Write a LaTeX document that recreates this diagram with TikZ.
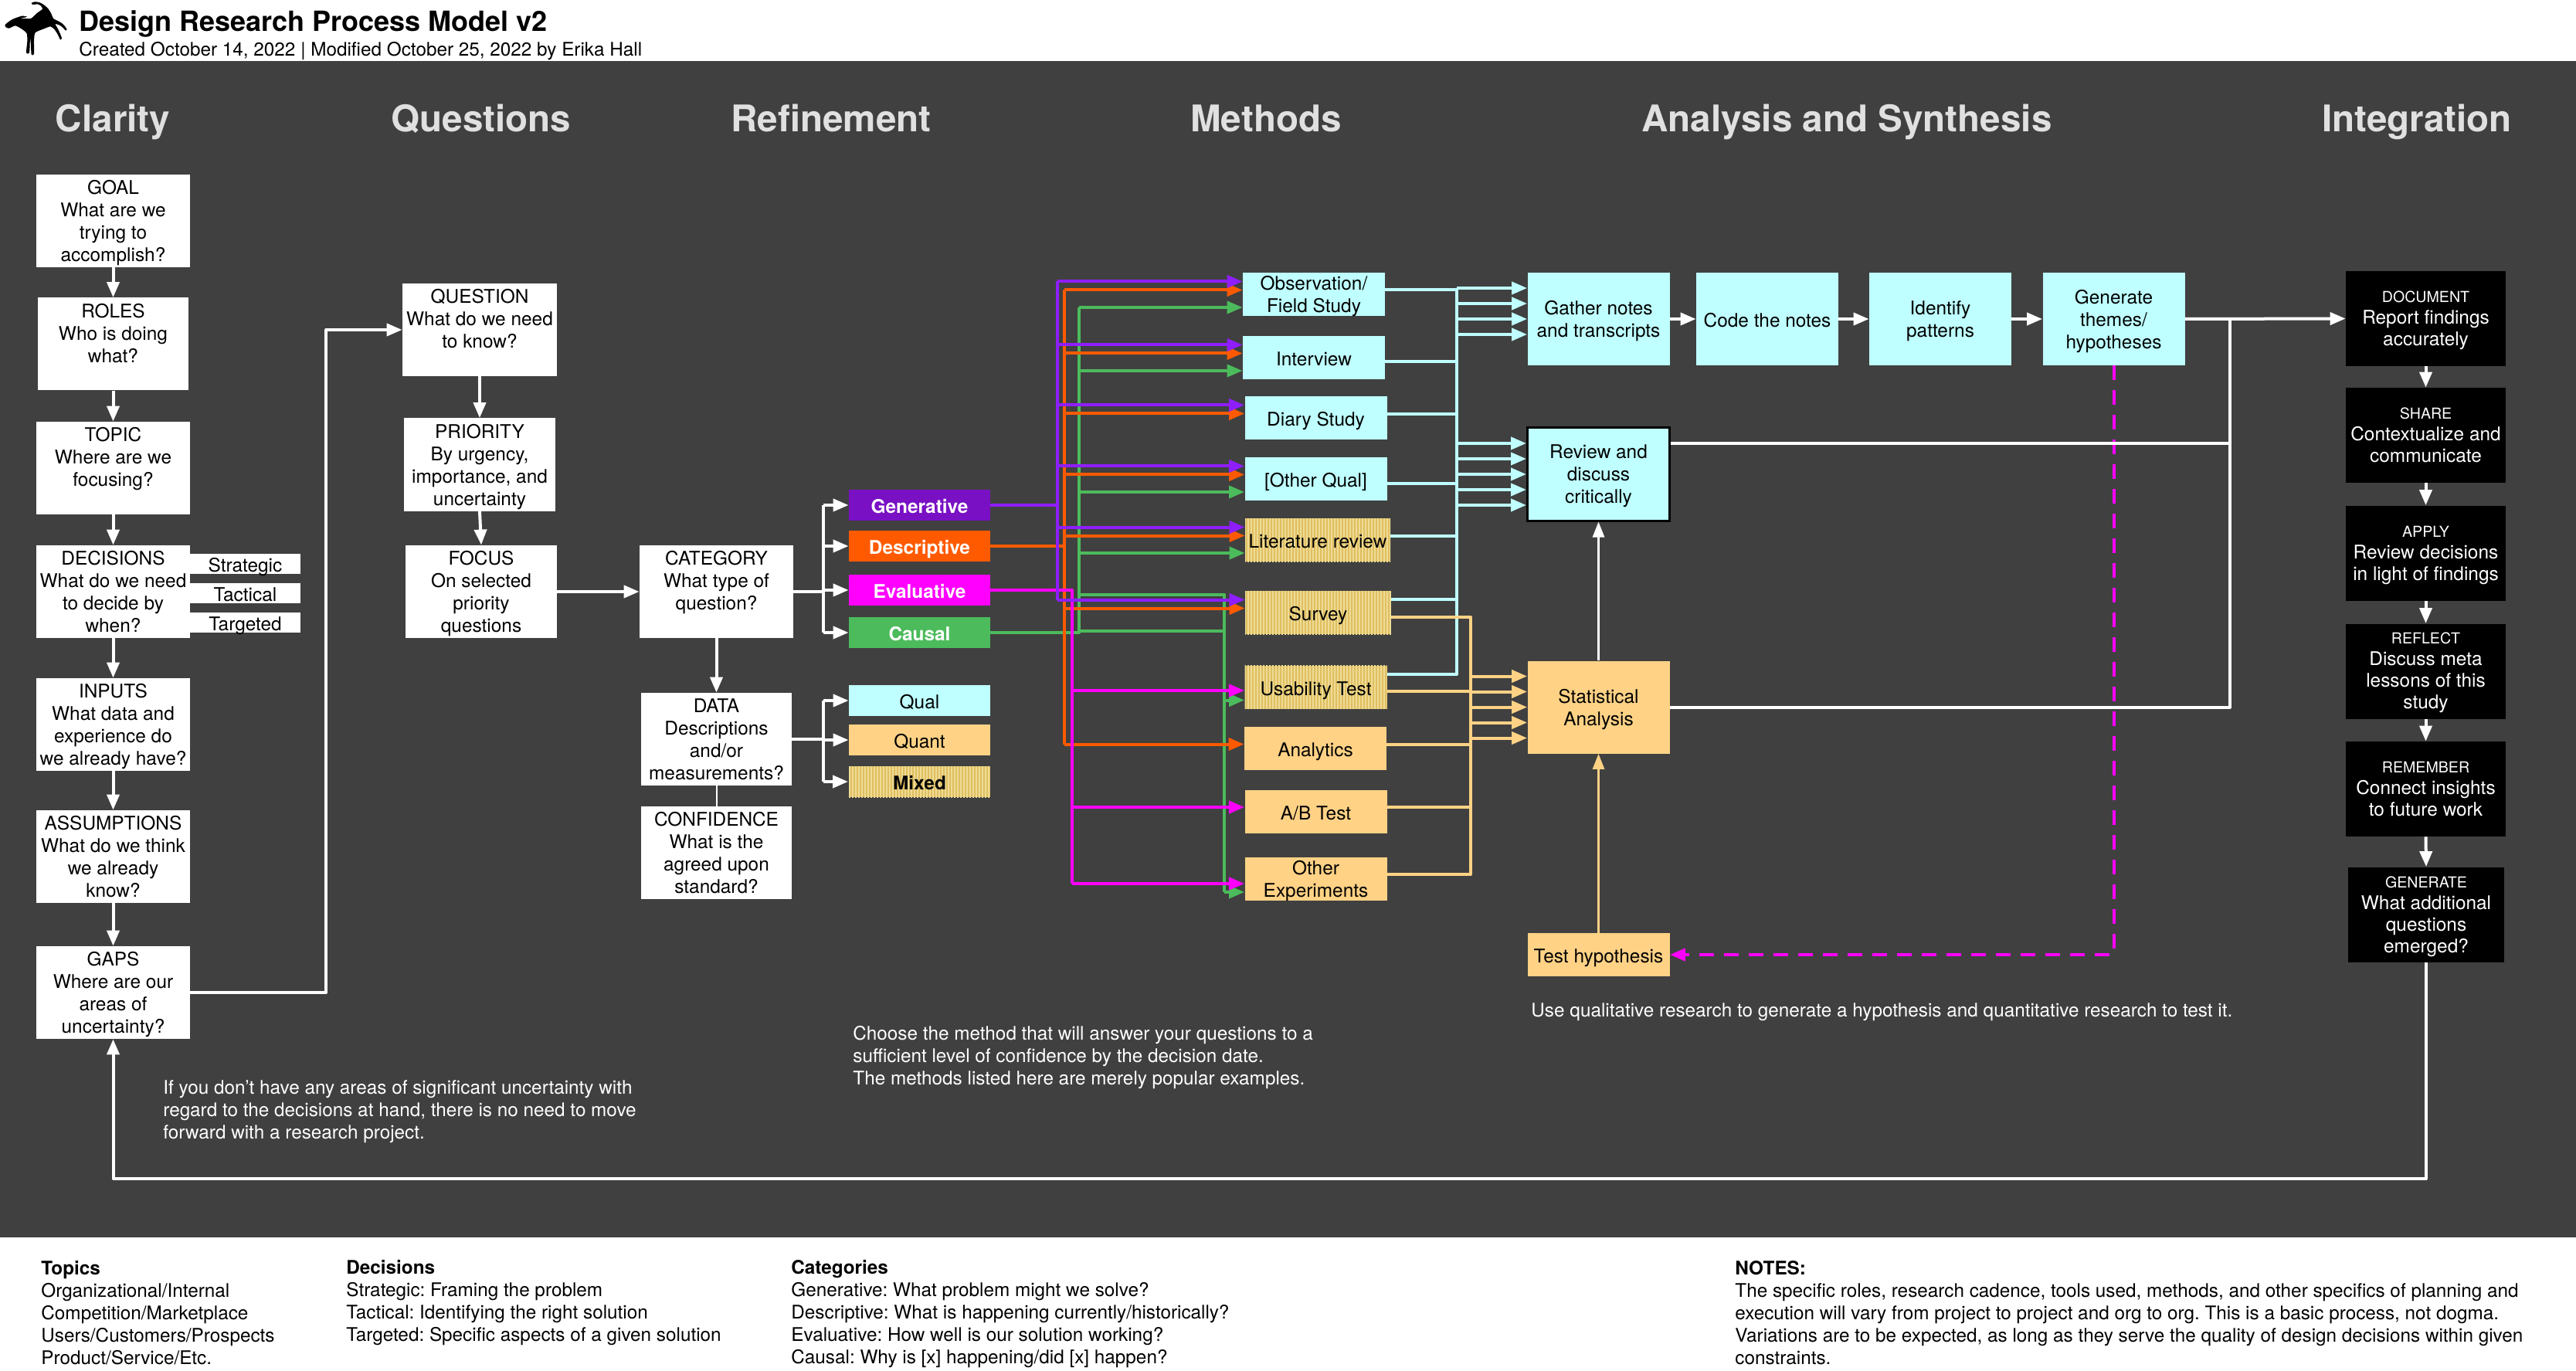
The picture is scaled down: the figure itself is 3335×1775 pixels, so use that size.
\documentclass[tikz,border=0pt]{standalone}
\usepackage{fontspec}
\setmainfont{TeX Gyre Heros}
\usetikzlibrary{arrows.meta,patterns.meta}
\frenchspacing

\definecolor{panelgray}{HTML}{404040}
\definecolor{titlegray}{HTML}{E0E0E0}
\definecolor{qualcyan}{HTML}{BFFFFF}
\definecolor{quantorange}{HTML}{FFD285}
\definecolor{genbox}{HTML}{7A10C4}
\definecolor{genline}{HTML}{8F1EFF}
\definecolor{descorange}{HTML}{FF5A00}
\definecolor{evalmagenta}{HTML}{FF00FF}
\definecolor{causegreen}{HTML}{4CBB5C}
\definecolor{stripebase}{HTML}{E0BE60}
\definecolor{stripelight}{HTML}{EEDC95}

\newcommand{\bodyfont}{\fontsize{12.2}{14.5}\selectfont}
\newcommand{\capline}[1]{{\fontsize{9.8}{14}\selectfont #1}}

\tikzset{
  bigtip/.tip={Triangle[length=10pt,width=8pt]},
  thintip/.tip={Triangle[length=10pt,width=7.5pt]},
  evenline/.style={execute at begin node={\rule{0pt}{11.9pt}}, text depth=1.1pt},
  twoline/.style={text depth=-0.9pt},
  qbox/.style={fill=white, text=black, inner sep=0pt, align=center, minimum width=99.5pt, minimum height=60pt, font=\bodyfont, text depth=-4.5pt},
  tagbox/.style={evenline, fill=white, text=black, inner sep=0pt, minimum width=71.5pt, minimum height=13pt, font=\bodyfont},
  catbox/.style={evenline, inner sep=0pt, minimum width=91.5pt, minimum height=20pt, font=\bodyfont\bfseries, text=white},
  typebox/.style={evenline, inner sep=0pt, minimum width=91.5pt, minimum height=20pt, font=\bodyfont, text=black},
  methodbox/.style={evenline, inner sep=0pt, align=center, minimum width=92pt, minimum height=28pt, font=\bodyfont, text=black},
  synthbox/.style={evenline, inner sep=0pt, align=center, minimum width=92pt, minimum height=60pt, font=\bodyfont, text=black},
  intbox/.style={fill=black, text=white, inner sep=0pt, align=center, minimum width=103.5pt, minimum height=61.5pt, font=\fontsize{12.2}{14}\selectfont, text depth=-0.4pt},
  stripebox/.style={preaction={fill=stripebase}, pattern={Lines[angle=90,distance=2pt,line width=1pt]}, pattern color=stripelight},
  headtext/.style={text=titlegray, font=\fontsize{23.8}{28}\selectfont\bfseries, inner sep=0pt, anchor=base},
  notetext/.style={anchor=west, align=left, inner sep=0pt, font=\fontsize{12.15}{14.5}\selectfont},
  heavy/.style={line width=2pt, line join=round},
  whiteline/.style={heavy, draw=white},
  purpleline/.style={heavy, draw=genline},
  orangeline/.style={heavy, draw=descorange},
  magentaline/.style={heavy, draw=evalmagenta},
  greenline/.style={heavy, draw=causegreen},
  cyanline/.style={heavy, draw=qualcyan},
  sandline/.style={heavy, draw=quantorange},
}

\begin{document}
\begin{tikzpicture}[x=0.5pt, y=-0.5pt]
  \useasboundingbox (0,0) rectangle (3335,1775);
  \fill[white] (0,0) rectangle (3335,1775);
  \fill[panelgray] (0,79) rectangle (3335,1602);

  % Header
  \fill[black, scale=0.3333] plot[smooth cycle, tension=0.4] coordinates {(122,12) (135,7) (155,10) (172,20) (188,35) (200,55) (207,72) (222,80) (240,90) (252,102) (260,115) (254,118) (245,108) (232,98) (215,93) (218,100) (228,118) (240,148) (234,154) (225,135) (212,115) (196,103) (170,112) (145,122) (135,130) (132,160) (132,210) (122,212) (120,175) (117,150) (114,205) (102,205) (106,160) (104,130) (88,115) (60,100) (35,110) (22,105) (20,96) (40,80) (55,72) (85,62) (105,65) (88,70) (78,72) (100,72) (120,72) (145,50) (165,35) (158,22) (145,16) (128,18)};
  \node[anchor=west, inner sep=0pt, font=\fontsize{18}{20}\selectfont\bfseries] (title) at (102,31) {Design Research Process Model v2};
  \node[anchor=west, inner sep=0pt, font=\fontsize{12.15}{14}\selectfont] (subtitle) at (102,66) {Created October 14, 2022 | Modified October 25, 2022 by Erika Hall};

  % Column headings
  \node[headtext] (hclarity) at (146,171) {Clarity};
  \node[headtext] (hquestions) at (623,171) {Questions};
  \node[headtext] (hrefine) at (1076,171) {Refinement};
  \node[headtext] (hmethods) at (1639,171) {Methods};
  \node[headtext] (hanalysis) at (2391,171) {Analysis and Synthesis};
  \node[headtext] (hintegrate) at (3129,171) {Integration};

  % Clarity
  \node[qbox] (goal) at (146.5,286) {GOAL\\What are we\\trying to\\accomplish?};
  \node[qbox, minimum width=97.5pt] (roles) at (146.5,445.5) {ROLES\\Who is doing\\what?\\\strut};
  \node[qbox] (topic) at (146.5,606) {TOPIC\\Where are we\\focusing?\\\strut};
  \node[qbox] (decisions) at (146.5,766) {DECISIONS\\What do we need\\to decide by\\when?};
  \node[tagbox] (strategic) at (317.5,730) {Strategic};
  \node[tagbox] (tactical) at (317.5,767.5) {Tactical};
  \node[tagbox] (targeted) at (317.5,805.5) {Targeted};
  \node[qbox] (inputs) at (146.5,938) {INPUTS\\What data and\\experience do\\we already have?};
  \node[qbox] (assumptions) at (146.5,1109) {ASSUMPTIONS\\What do we think\\we already\\know?};
  \node[qbox] (gaps) at (146.5,1285) {GAPS\\Where are our\\areas of\\uncertainty?};

  % Questions
  \node[qbox, minimum width=100pt] (question) at (621,427) {QUESTION\\What do we need\\to know?\\\strut};
  \node[qbox, minimum width=98pt] (priority) at (621,601.5) {PRIORITY\\By urgency,\\importance, and\\uncertainty};
  \node[qbox, minimum width=98pt] (focus) at (623,766) {FOCUS\\On selected\\priority\\questions};

  % Refinement
  \node[qbox] (category) at (927.5,766) {CATEGORY\\What type of\\question?\\\strut};
  \node[qbox, minimum width=97.5pt] (data) at (927.5,957) {DATA\\Descriptions\\and/or\\measurements?};
  \node[qbox, minimum width=97.5pt] (confidence) at (927.5,1104) {CONFIDENCE\\What is the\\agreed upon\\standard?};
  \node[catbox, fill=genbox] (generative) at (1190.5,654) {Generative};
  \node[catbox, fill=descorange] (descriptive) at (1190.5,707) {Descriptive};
  \node[catbox, fill=evalmagenta] (evaluative) at (1190.5,764) {Evaluative};
  \node[catbox, fill=causegreen] (causal) at (1190.5,819) {Causal};
  \node[typebox, fill=qualcyan] (qual) at (1190.5,907) {Qual};
  \node[typebox, fill=quantorange] (quant) at (1190.5,958) {Quant};
  \node[typebox, stripebox, font=\bodyfont\bfseries] (mixed) at (1190.5,1012) {Mixed};

  % Methods
  \node[methodbox, twoline, fill=qualcyan] (obs) at (1701,381) {Observation/\\Field Study};
  \node[methodbox, fill=qualcyan] (intv) at (1701,463) {Interview};
  \node[methodbox, fill=qualcyan] (diary) at (1703.5,541) {Diary Study};
  \node[methodbox, fill=qualcyan] (otherq) at (1703.5,620) {[Other Qual]};
  \node[methodbox, stripebox, minimum width=94pt] (lit) at (1706,699) {Literature review};
  \node[methodbox, stripebox, minimum width=94.5pt] (survey) at (1706.5,793) {Survey};
  \node[methodbox, stripebox] (usability) at (1703.5,889.5) {Usability Test};
  \node[methodbox, fill=quantorange] (analytics) at (1703,969) {Analytics};
  \node[methodbox, fill=quantorange] (abtest) at (1703.5,1051) {A/B Test};
  \node[methodbox, twoline, fill=quantorange] (otherexp) at (1703.5,1138) {Other\\Experiments};

  % Analysis and synthesis
  \node[synthbox, twoline, fill=qualcyan] (gather) at (2069.5,413) {Gather notes\\and transcripts};
  \node[synthbox, fill=qualcyan] (code) at (2288,413) {Code the notes};
  \node[synthbox, twoline, fill=qualcyan] (identify) at (2512,413) {Identify\\patterns};
  \node[synthbox, twoline, fill=qualcyan] (themes) at (2736.5,413) {Generate\\themes/\\hypotheses};
  \node[synthbox, twoline, fill=qualcyan, draw=black, line width=1.5pt] (review) at (2069.5,614) {Review and\\discuss\\critically};
  \node[synthbox, twoline, fill=quantorange] (stats) at (2069.5,915.5) {Statistical\\Analysis};
  \node[methodbox, fill=quantorange] (testhyp) at (2069.5,1236) {Test hypothesis};

  % Integration
  \node[intbox] (document) at (3140.5,412.5) {\capline{DOCUMENT}\\Report findings\\accurately};
  \node[intbox] (share) at (3140.5,563.5) {\capline{SHARE}\\Contextualize and\\communicate};
  \node[intbox] (apply) at (3140.5,716) {\capline{APPLY}\\Review decisions\\in light of findings};
  \node[intbox, text depth=1.1pt] (reflect) at (3140.5,869) {\capline{REFLECT}\\Discuss meta\\lessons of this\\study};
  \node[intbox] (remember) at (3140.5,1021.5) {\capline{REMEMBER}\\Connect insights\\to future work};
  \node[intbox, minimum width=101pt] (generate) at (3141,1184) {\capline{GENERATE}\\What additional\\questions\\emerged?};

  % Bus positions
  \coordinate (gapsbus) at (422,427);
  \coordinate (forkcat) at (1066,765);
  \coordinate (forkdata) at (1066,957);
  \coordinate (purplebus) at (1369,654);
  \coordinate (orangebus) at (1378,707);
  \coordinate (magentabus) at (1388,764);
  \coordinate (greenbus) at (1397,819);
  \coordinate (greenright) at (1585,770);
  \coordinate (cyanbus) at (1886,413);
  \coordinate (sandbus) at (1904,916);
  \coordinate (intbus) at (2887,413);

  % Clarity and question flow
  \foreach \from/\to in {goal/roles, roles/topic, topic/decisions, decisions/inputs, inputs/assumptions, assumptions/gaps, question/priority, priority/focus, category/data}
    \draw[whiteline, -bigtip] (\from.south) -- (\to.north);
  \draw[whiteline, -bigtip] (gaps.east) -| (gapsbus) -- (question.west);
  \draw[whiteline, -bigtip] (focus.east) -- (category.west);
  \draw[white, line width=1pt] (data.south) -- (confidence.north);

  % Refinement forks
  \draw[whiteline] (category.east) -- (category.east -| forkcat);
  \draw[whiteline] (generative.west -| forkcat) -- (causal.west -| forkcat);
  \foreach \to in {generative, descriptive, evaluative, causal}
    \draw[whiteline, -bigtip] (\to.west -| forkcat) -- (\to.west);
  \draw[whiteline] (data.east) -- (data.east -| forkdata);
  \draw[whiteline] (qual.west -| forkdata) -- (mixed.west -| forkdata);
  \foreach \to in {qual, quant, mixed}
    \draw[whiteline, -bigtip] (\to.west -| forkdata) -- (\to.west);

  % Causal
  \draw[greenline] (causal.east) -- (greenbus) -- ([yshift=-8.5pt]obs.west -| greenbus);
  \draw[greenline] (greenbus |- greenright) -- (greenright) -- ([yshift=-8.5pt]otherexp.west -| greenright);
  \draw[greenline] ([yshift=1pt]greenbus) -- ([yshift=1pt]greenbus -| greenright);
  \foreach \to in {obs, intv, otherq, lit}
    \draw[greenline, -bigtip] ([yshift=-8.5pt]\to.west -| greenbus) -- ([yshift=-8.5pt]\to.west);
  \foreach \to in {usability, otherexp}
    \draw[greenline, -bigtip] ([yshift=-8.5pt]\to.west -| greenright) -- ([yshift=-8.5pt]\to.west);

  % Descriptive
  \draw[orangeline] (descriptive.east) -- (orangebus);
  \draw[orangeline] ([yshift=2.75pt]obs.west -| orangebus) -- ([yshift=2.5pt]analytics.west -| orangebus);
  \foreach \to in {obs, intv, diary, otherq, lit, survey, analytics}
    \draw[orangeline, -bigtip] ([yshift=2.75pt]\to.west -| orangebus) -- ([yshift=2.75pt]\to.west);

  % Evaluative
  \draw[magentaline] (evaluative.east) -- (magentabus) -- ([yshift=-3pt]otherexp.west -| magentabus);
  \foreach \to/\off in {usability/-2.25pt, abtest/3pt, otherexp/-3pt}
    \draw[magentaline, -bigtip] ([yshift=\off]\to.west -| magentabus) -- ([yshift=\off]\to.west);

  % Generative
  \draw[purpleline] (generative.east) -- (purplebus);
  \draw[purpleline] ([yshift=8.25pt]obs.west -| purplebus) -- ([yshift=8.25pt]survey.west -| purplebus);
  \foreach \to in {obs, intv, diary, otherq, lit, survey}
    \draw[purpleline, -bigtip] ([yshift=8.25pt]\to.west -| purplebus) -- ([yshift=8.25pt]\to.west);

  % Qualitative output
  \draw[cyanline] ([yshift=20pt]gather.west -| cyanbus) -- ([yshift=8.25pt]usability.east -| cyanbus) -- ([yshift=8.25pt]usability.east);
  \foreach \from/\off in {obs/3pt, intv/-2.5pt, diary/2.5pt, otherq/-3pt, lit/2.5pt, survey/8.5pt}
    \draw[cyanline] ([yshift=\off]\from.east) -- ([yshift=\off]\from.east -| cyanbus);
  \foreach \off in {20pt, 10pt, 0pt, -10pt}
    \draw[cyanline, -bigtip] ([yshift=\off]gather.west -| cyanbus) -- ([yshift=\off]gather.west);
  \foreach \off in {20pt, 10pt, 0pt, -10pt, -20pt}
    \draw[cyanline, -bigtip] ([yshift=\off]review.west -| cyanbus) -- ([yshift=\off]review.west);

  % Quantitative output
  \draw[sandline] ([yshift=-3pt]survey.east) -| ([yshift=3pt]otherexp.east -| sandbus) -- ([yshift=3pt]otherexp.east);
  \foreach \from/\off in {usability/-2.75pt, analytics/2.5pt, abtest/3pt}
    \draw[sandline] ([yshift=\off]\from.east) -- ([yshift=\off]\from.east -| sandbus);
  \foreach \off in {20pt, 10pt, 0pt, -10pt, -20pt}
    \draw[sandline, -bigtip] ([yshift=\off]stats.west -| sandbus) -- ([yshift=\off]stats.west);

  % Synthesis flow
  \foreach \from/\to in {gather/code, code/identify, identify/themes, themes/document}
    \draw[whiteline, -bigtip] (\from.east) -- (\to.west);
  \draw[white, line width=1.4pt, -thintip] (stats.north) -- (review.south);
  \draw[quantorange, line width=1.4pt, -thintip] (testhyp.north) -- (stats.south);
  \draw[evalmagenta, line width=2pt, dash pattern=on 9.5pt off 6.5pt, -bigtip] (themes.south) |- (testhyp.east);
  \draw[whiteline] ([yshift=20pt]review.east) -- ([yshift=20pt]review.east -| intbus);
  \draw[whiteline] (stats.east) -| (intbus);

  % Integration flow
  \foreach \from/\to in {document/share, share/apply, apply/reflect, reflect/remember, remember/generate}
    \draw[whiteline, -bigtip] (\from.south) -- (\to.north);
  \draw[whiteline, -bigtip] (generate.south) -- ++(0,280) -| (gaps.south);

  % Annotations
  \node[notetext, text=white] (uncertain) at (211,1439) {If you don’t have any areas of significant uncertainty with\\regard to the decisions at hand, there is no need to move\\forward with a research project.};
  \node[notetext, text=white] (choose) at (1104,1369) {Choose the method that will answer your questions to a\\sufficient level of confidence by the decision date.\\The methods listed here are merely popular examples.};
  \node[notetext, text=white] (useqq) at (1982,1310) {Use qualitative research to generate a hypothesis and quantitative research to test it.};

  % Footer
  \node[notetext] (topics) at (53,1700) {\textbf{Topics}\\Organizational/Internal\\Competition/Marketplace\\Users/Customers/Prospects\\Product/Service/Etc.};
  \node[notetext] (decisionlist) at (448,1687) {\textbf{Decisions}\\Strategic: Framing the problem\\Tactical: Identifying the right solution\\Targeted: Specific aspects of a given solution};
  \node[notetext] (categorylist) at (1024,1701) {\textbf{Categories}\\Generative: What problem might we solve?\\Descriptive: What is happening currently/historically?\\Evaluative: How well is our solution working?\\Causal: Why is [x] happening/did [x] happen?};
  \node[notetext] (notes) at (2246,1700) {\textbf{NOTES:}\\The specific roles, research cadence, tools used, methods, and other specifics of planning and\\execution will vary from project to project and org to org. This is a basic process, not dogma.\\Variations are to be expected, as long as they serve the quality of design decisions within given\\constraints.};
\end{tikzpicture}
\end{document}
